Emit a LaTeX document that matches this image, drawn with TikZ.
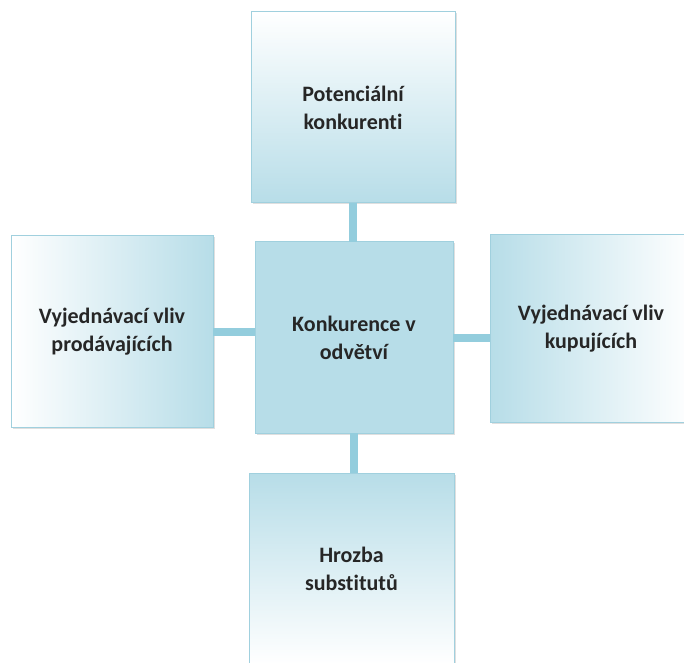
\documentclass[tikz,border=0pt]{standalone}
\usepackage{fontspec}
\setmainfont{Carlito}[Ligatures=NoCommon]
\usepackage{tikz}
\usetikzlibrary{shadows}

\begin{document}
\begin{tikzpicture}[x=1pt,y=1pt,
  force/.style={draw=borderColor,line width=1pt,inner sep=0pt,outer sep=0pt,
    minimum width=204pt,minimum height=191pt,align=center,
    font=\fontsize{22}{28}\selectfont\bfseries,text=black!85,
    drop shadow={opacity=0.25,shadow xshift=1.5pt,shadow yshift=-1.5pt}},
  link/.style={draw=linkColor,line width=8pt}]
\definecolor{fillColor}{RGB}{255,255,255}
\definecolor{boxColor}{RGB}{183,221,232}
\definecolor{borderColor}{RGB}{160,208,222}
\definecolor{linkColor}{RGB}{147,205,221}
\path[use as bounding box,fill=fillColor] (0,0) rectangle (684,662);
\begin{scope}
\path[clip] (0,0) rectangle (684,662);

\node[force,top color=white,bottom color=boxColor] (pot) at (353,554.5) {Potenciální\\konkurenti};

\node[force,fill=boxColor,minimum width=198pt] (konk) at (354,324.5) {Konkurence v\\odvětví};

\node[force,left color=white,right color=boxColor,minimum width=202pt] (prod) at (112,330.5) {Vyjednávací vliv\\prodávajících};

\node[force,left color=boxColor,right color=white,minimum width=202pt,minimum height=188pt] (kup) at (591,333.5) {Vyjednávací vliv\\kupujících};

\node[force,top color=boxColor,bottom color=white,minimum width=205pt] (subst) at (351.5,93.5) {Hrozba\\substitutů};

\path[link] (pot.south) -- (pot.south |- konk.north);
\path[link] (konk.south) -- (konk.south |- subst.north);
\path[link] (prod.east) -- (prod.east -| konk.west);
\path[link] (konk.east) -- (konk.east -| kup.west);
\end{scope}
\end{tikzpicture}
\end{document}
